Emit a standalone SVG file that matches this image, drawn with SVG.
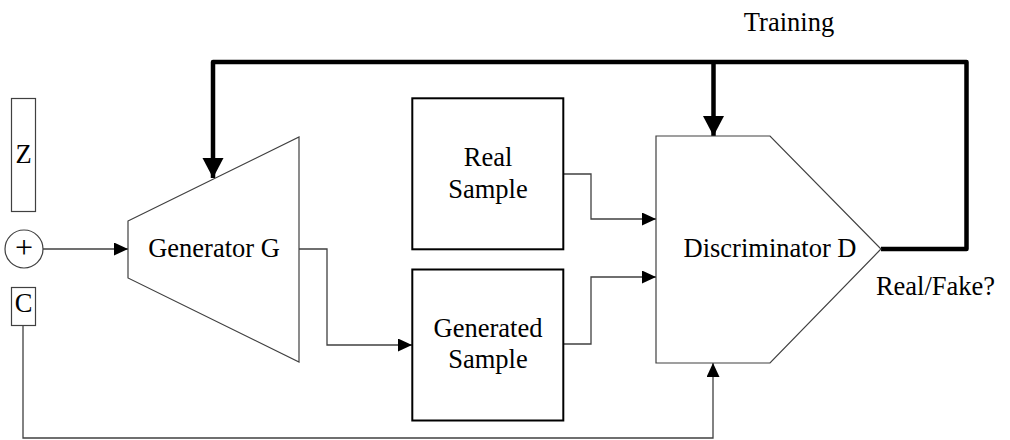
<svg xmlns="http://www.w3.org/2000/svg" width="1010" height="440" viewBox="0 0 1010 440">
<style>
text{font-family:"Liberation Serif","Times New Roman",serif;font-size:26.5px;fill:#000;text-anchor:middle}
.shape{fill:#fff;stroke:#404040;stroke-width:1.2}
.box{fill:#fff;stroke:#000;stroke-width:2}
.thin{fill:none;stroke:#404040;stroke-width:1.3}
.thick{fill:none;stroke:#000;stroke-width:4.5;stroke-linejoin:round}
</style>
<defs>
<marker id="a" markerUnits="userSpaceOnUse" markerWidth="14" markerHeight="14" refX="14" refY="6.5" orient="auto">
<path d="M0,0 L14,6.5 L0,13 Z" fill="#000"/>
</marker>
<marker id="b" markerUnits="userSpaceOnUse" markerWidth="21" markerHeight="22" refX="20" refY="10.5" orient="auto">
<path d="M0,0 L20,10.5 L0,21 Z" fill="#000"/>
</marker>
</defs>
<rect width="1010" height="440" fill="#fff"/>
<g id="connectors">
<path class="thin" d="M43,249 H128" marker-end="url(#a)"/>
<path class="thin" d="M23,325 V438 H713 V363" marker-end="url(#a)"/>
<path class="thin" d="M299,249 H327 V345 H412" marker-end="url(#a)"/>
<path class="thin" d="M563,174 H591 V219 H656" marker-end="url(#a)"/>
<path class="thin" d="M563,344 H591 V277 H656" marker-end="url(#a)"/>
<path class="thick" d="M881,249 H966.5 V62 H213 V178" marker-end="url(#b)"/>
<path class="thick" d="M713.5,62 V136" marker-end="url(#b)"/>
</g>
<g id="z"><rect class="shape" x="11.5" y="98.5" width="24" height="113"/><text x="23.5" y="163">Z</text></g>
<g id="plus"><circle class="shape" cx="24" cy="249" r="19"/><text x="24" y="257.5" style="font-size:32px">+</text></g>
<g id="c"><rect class="shape" x="11.5" y="287.5" width="24" height="38"/><text x="23.5" y="312">C</text></g>
<g id="generator"><polygon class="shape" points="128,221 299,137 299,362 128,278"/><text x="214" y="257">Generator G</text></g>
<g id="real"><rect class="box" x="412.3" y="98.3" width="151" height="151"/><text x="488" y="166">Real</text><text x="488" y="198">Sample</text></g>
<g id="generated"><rect class="box" x="412.3" y="269.5" width="151" height="151"/><text x="488" y="336.5">Generated</text><text x="488" y="368">Sample</text></g>
<g id="discriminator"><polygon class="shape" points="656,136 770,136 881,249 770,363 656,363"/><text x="770" y="257">Discriminator D</text></g>
<g id="labels"><text x="789" y="31">Training</text><text x="935.5" y="295">Real/Fake?</text></g>
</svg>
